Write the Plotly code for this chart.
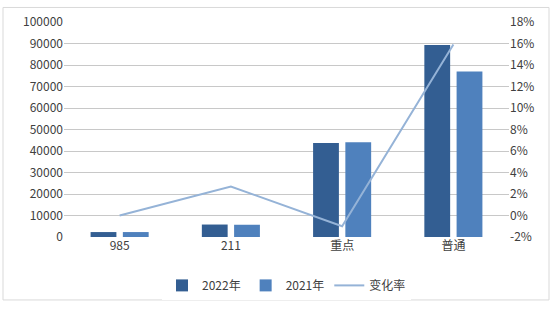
import plotly.graph_objects as go

categories = ["985", "211", "重点", "普通"]
values_2022 = [2300, 5800, 43700, 89300]
values_2021 = [2300, 5700, 44100, 77000]
change_rate = [0.000, 0.027, -0.010, 0.159]

left_ticks = list(range(0, 100001, 10000))
right_ticks = [x / 100 for x in range(-2, 19, 2)]

font_family = "Noto Sans CJK SC, Noto Sans, sans-serif"

fig = go.Figure()
fig.add_trace(go.Bar(x=categories, y=values_2022, name="2022年",
                     marker=dict(color="#335E92", line=dict(width=0))))
fig.add_trace(go.Bar(x=categories, y=values_2021, name="2021年",
                     marker=dict(color="#4F81BD", line=dict(width=0))))
fig.add_trace(go.Scatter(x=categories, y=change_rate, name="变化率", yaxis="y2",
                         mode="lines", line=dict(color="#95B3D7", width=2)))

W, H = 558, 312
L, R, T, B = 64, 49, 19, 71
pw, ph = W - L - R, H - T - B

def px(x):
    return (x - L) / pw

def py(y):
    return (H - B - y) / ph

fig.add_shape(type="rect", xref="paper", yref="paper",
              x0=px(3), x1=px(549), y0=py(306), y1=py(4),
              line=dict(color="#D9D9D9", width=1))

fig.update_layout(
    width=W, height=H,
    margin=dict(l=L, r=R, t=T, b=B),
    paper_bgcolor="white", plot_bgcolor="white",
    font=dict(family=font_family, size=12, color="#404040"),
    barmode="group", bargap=0.42, bargroupgap=0.2,
    showlegend=True,
    legend=dict(orientation="h", x=0.5, xanchor="center", y=py(276), yanchor="top",
                font=dict(size=12, color="#404040"), itemwidth=30, tracegroupgap=0),
    xaxis=dict(showgrid=False, showline=False, ticks="", tickfont=dict(size=12, color="#404040")),
    yaxis=dict(range=[0, 100000], tickvals=left_ticks, ticktext=[str(v) for v in left_ticks],
               showgrid=True, gridcolor="#C8C8C8", gridwidth=1, zeroline=False,
               showline=False, ticks="", ticklen=0, tickfont=dict(size=12, color="#404040")),
    yaxis2=dict(range=[-0.02, 0.18], tickvals=right_ticks,
                ticktext=[f"{int(round(v*100))}%" for v in right_ticks],
                overlaying="y", side="right", showgrid=False, zeroline=False,
                showline=False, ticks="", tickfont=dict(size=12, color="#404040")),
)

fig.write_html("out.html")
